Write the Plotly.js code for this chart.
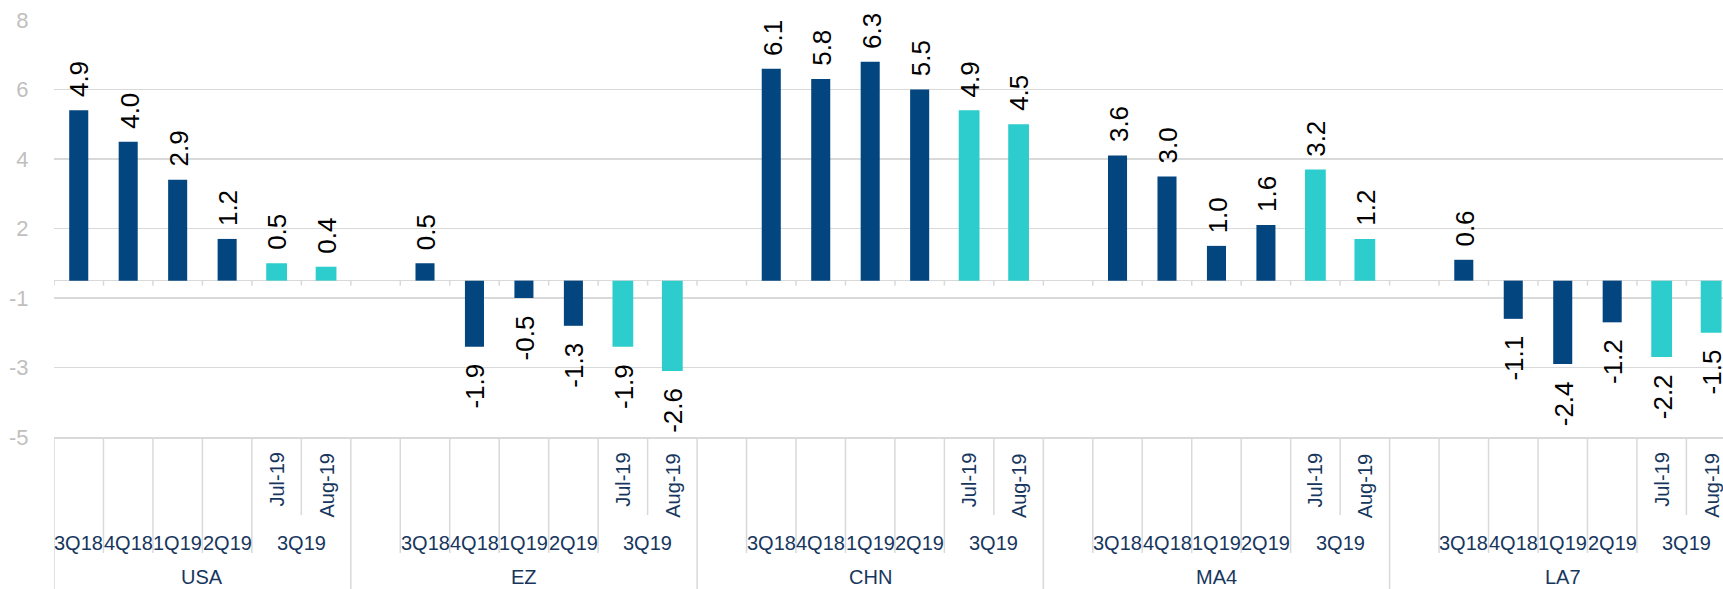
<!DOCTYPE html>
<html>
<head>
<meta charset="utf-8">
<script src="https://cdn.plot.ly/plotly-3.0.1.min.js"></script>
<style>
html,body{margin:0;padding:0;background:#fff;}
#chart{width:1723px;height:589px;}
</style>
</head>
<body>
<div id="chart"></div>
<script>
// ---------------- DATA ----------------
const regions = ['USA', 'EZ', 'CHN', 'MA4', 'LA7'];
const quarters = ['3Q18', '4Q18', '1Q19', '2Q19'];
const months = ['Jul-19', 'Aug-19'];
const monthGroupLabel = '3Q19';

const usaQuarterly = [4.9, 4.0, 2.9, 1.2];
const usaMonthly   = [0.5, 0.4];
const ezQuarterly  = [0.5, -1.9, -0.5, -1.3];
const ezMonthly    = [-1.9, -2.6];
const chnQuarterly = [6.1, 5.8, 6.3, 5.5];
const chnMonthly   = [4.9, 4.5];
const ma4Quarterly = [3.6, 3.0, 1.0, 1.6];
const ma4Monthly   = [3.2, 1.2];
const la7Quarterly = [0.6, -1.1, -2.4, -1.2];
const la7Monthly   = [-2.2, -1.5];

const yTickLabels = ['8', '6', '4', '2', '-1', '-3', '-5'];

// ---------------- BUILD ----------------
const quarterlyByRegion = [usaQuarterly, ezQuarterly, chnQuarterly, ma4Quarterly, la7Quarterly];
const monthlyByRegion = [usaMonthly, ezMonthly, chnMonthly, ma4Monthly, la7Monthly];

const NAVY = '#03467F';
const TEAL = '#2ECDCD';
const GRID = '#D9D9D9';
const LABEL = '#17365D';
const FONT = 'Arial, "Liberation Sans", sans-serif';

const cats = [];
const blankSet = new Set();
const qx = [], qy = [], mx = [], my = [];
const groupSpans = [];
regions.forEach((r, gi) => {
  const start = cats.length;
  if (gi > 0) { const b = r + '|blank'; cats.push(b); blankSet.add(b); }
  quarters.forEach((q, i) => {
    const c = r + '|' + q; cats.push(c); qx.push(c); qy.push(quarterlyByRegion[gi][i]);
  });
  months.forEach((m, i) => {
    const c = r + '|' + m; cats.push(c); mx.push(c); my.push(monthlyByRegion[gi][i]);
  });
  groupSpans.push([start, cats.length - 1]);
});

const traces = [
  {type: 'bar', x: qx, y: qy, width: 0.385, marker: {color: NAVY, line: {width: 0}}, hoverinfo: 'skip'},
  {type: 'bar', x: mx, y: my, width: 0.42, marker: {color: TEAL, line: {width: 0}}, hoverinfo: 'skip'}
];

const annotations = [];
const shapes = [];

// data labels
function addValueLabels(xs, ys) {
  xs.forEach((c, i) => {
    const v = ys[i];
    annotations.push({
      x: c, y: v, xref: 'x', yref: 'y', showarrow: false,
      text: v.toFixed(1), textangle: -90,
      yanchor: v >= 0 ? 'bottom' : 'top', yshift: v >= 0 ? 11 : -15, xshift: 1,
      font: {family: FONT, size: 26, color: '#000000'}
    });
  });
}
addValueLabels(qx, qy);
addValueLabels(mx, my);

// category labels
regions.forEach((r, gi) => {
  quarters.forEach(q => {
    annotations.push({x: r + '|' + q, y: 0, xref: 'x', yref: 'paper', yanchor: 'middle', yshift: -106,
      showarrow: false, text: q, font: {family: FONT, size: 20, color: LABEL}});
  });
  months.forEach(m => {
    annotations.push({x: r + '|' + m, y: 0, xref: 'x', yref: 'paper', yanchor: 'top', yshift: -14,
      textangle: -90, showarrow: false, text: m, font: {family: FONT, size: 20, color: LABEL}});
  });
  const firstMonthIdx = cats.indexOf(r + '|' + months[0]);
  annotations.push({x: firstMonthIdx + 0.5, y: 0, xref: 'x', yref: 'paper', yanchor: 'middle', yshift: -106,
    showarrow: false, text: monthGroupLabel, font: {family: FONT, size: 20, color: LABEL}});
  const span = groupSpans[gi];
  annotations.push({x: (span[0] + span[1]) / 2, y: 0, xref: 'x', yref: 'paper', yanchor: 'bottom', yshift: -152,
    borderpad: 0, showarrow: false, text: r, font: {family: FONT, size: 20, color: LABEL}});
});

// dividers & zero-line ticks
for (let k = 0; k <= cats.length; k++) {
  const b = k - 0.5;
  let len;
  if (k === 0 || k === cats.length || blankSet.has(cats[k])) len = 160;
  else if (cats[k].endsWith('|' + months[1])) len = 78;
  else len = 116;
  shapes.push({type: 'line', xref: 'x', yref: 'paper', x0: b, x1: b, ysizemode: 'pixel', yanchor: 0,
    y0: 0, y1: -len, line: {color: GRID, width: 1.5}});
  shapes.push({type: 'line', xref: 'x', yref: 'y', x0: b, x1: b, ysizemode: 'pixel', yanchor: 0,
    y0: 0, y1: -5, line: {color: GRID, width: 1.5}});
}

const layout = {
  width: 1723, height: 589,
  margin: {l: 54, r: 0, t: 20, b: 152, pad: 0},
  paper_bgcolor: '#ffffff', plot_bgcolor: '#ffffff',
  showlegend: false,
  barmode: 'overlay',
  font: {family: FONT},
  xaxis: {
    type: 'category', categoryorder: 'array', categoryarray: cats,
    range: [-0.5, 33.24], showticklabels: false, showgrid: false, zeroline: false,
    ticks: '', showline: true, linecolor: GRID, linewidth: 1.5, fixedrange: true
  },
  yaxis: {
    range: [-4.5, 7.5001],
    tickmode: 'array',
    tickvals: yTickLabels.map((_, i) => 7.5 - 2 * i),
    ticktext: yTickLabels,
    showgrid: true, gridcolor: GRID, gridwidth: 1.5,
    zeroline: true, zerolinecolor: GRID, zerolinewidth: 1.5,
    ticks: 'outside', ticklen: 20, tickcolor: 'rgba(0,0,0,0)',
    tickfont: {family: FONT, size: 22, color: '#BFBFBF'},
    showline: false, fixedrange: true
  },
  annotations: annotations,
  shapes: shapes
};

Plotly.newPlot('chart', traces, layout, {staticPlot: true, displayModeBar: false});
</script>
</body>
</html>
